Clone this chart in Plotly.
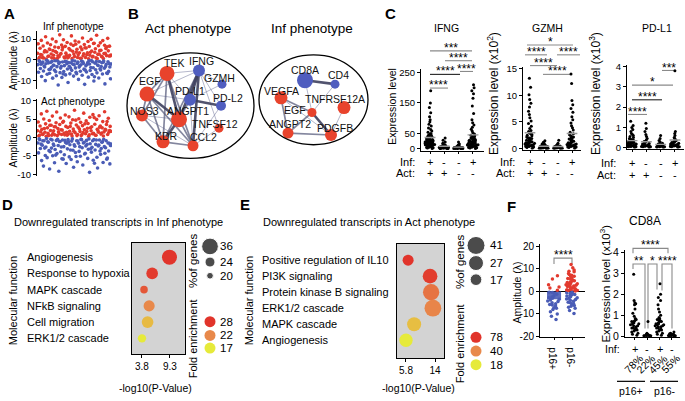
import numpy as np
import plotly.graph_objects as go

W, H = 685, 401
FONT = "Liberation Sans, Arial, Helvetica, sans-serif"
RED = "#e23a2e"
BLUE = "#4a5cb6"
NODE_RED = "#e8432c"
NODE_BLUE = "#4f5dbf"
YEL, ORA, RD = "#e6ea3a", "#e8894b", "#e1342b"

# ======================= DATA =======================
# Panel A : amplitudes (lambda) per sample, in sample order
inf_red = [3.1, 7.8, 0.4, 1.2, 5.6, 2.5, 9.4, 2.3, 1.0, 6.7, 0.8, 3.8, 4.5, 11.2, 0.3, 3.9, 8.1, 1.7, 1.7, 5.2, 5.0,
           7.3, 2.8, 0.9, 10.1, 4.4, 2.2, 0.6, 6.2, 4.0, 8.8, 3.5, 0.6, 1.9, 5.9, 1.4, 12.1, 2.6, 3.0, 7.1, 4.8, 6.0,
           9.7, 1.3, 0.8, 6.5, 3.2, 2.0, 8.4, 0.9, 1.2, 5.4, 2.1, 4.7, 7.6, 11.6, 0.5, 4.1, 6.9, 2.8, 1.5, 9.1, 7.5,
           3.7, 5.1, 1.1, 2.4, 8.6, 3.4, 0.7, 6.1, 0.7, 4.9, 10.6, 1.9, 2.9, 7.4, 5.8, 1.1, 5.7, 2.4, 3.3, 8.9, 0.4,
           6.4, 2.2, 3.6, 9.9, 4.2, 1.3, 1.6, 7.9, 8.0, 3.6, 5.3, 0.9, 11.9, 0.5, 2.6, 6.8, 2.7, 4.4, 8.2, 4.6, 1.6,
           1.4, 9.3, 0.6, 3.0, 7.0, 3.1, 5.5, 2.0, 6.3, 10.4, 4.3, 1.8, 6.6, 1.8, 2.3]
inf_blue = [-2.4, -6.1, -0.5, -0.9, -4.3, -2.2, -8.2, -1.6, -1.1, -5.5, -3.1, -3.5, -10.2, -2.0, -0.3, -7.1, -0.7,
            -1.6, -4.8, -6.6, -4.6, -1.3, -3.7, -0.8, -9.0, -2.7, -2.7, -5.1, -0.5, -5.9, -7.8, -3.4, -0.6, -12.3,
            -1.9, -1.3, -6.3, -4.1, -3.2, -8.7, -1.1, -7.0, -5.8, -2.9, -0.9, -7.4, -0.8, -2.0, -4.5, -11.1, -1.4,
            -3.2, -6.9, -4.1, -1.5, -5.2, -0.4, -2.2, -8.0, -2.5, -0.6, -4.0, -6.2, -6.8, -1.8, -1.2, -9.6, -3.6,
            -3.0, -5.6, -2.5, -0.7, -7.6, -1.0, -1.8, -4.6, -12.0, -5.1, -3.0, -6.0, -2.3, -1.4, -8.5, -0.5, -2.1,
            -5.3, -3.8, -0.4, -7.2, -1.0, -3.9, -10.4, -8.3, -1.7, -4.9, -0.9, -6.4, -2.6, -2.8, -8.9, -0.9, -4.4,
            -5.0, -3.3, -1.5, -7.0, -1.2, -0.6, -4.2, -11.8, -3.3, -2.3, -6.5, -6.7, -1.0, -5.7, -1.9, -3.5, -9.3,
            -2.1]
act_red = [1.8, 4.2, 0.4, 0.6, 3.1, 1.5, 6.4, 2.2, 0.8, 0.9, 5.0, 2.4, 1.4, 3.7, 0.3, 7.1, 2.6, 1.1, 0.5, 4.6, 3.3,
           1.9, 3.3, 0.6, 5.8, 1.1, 1.8, 2.9, 0.7, 2.9, 4.0, 6.9, 0.5, 2.4, 1.5, 1.0, 3.5, 5.3, 2.1, 0.8, 2.0, 4.1,
           4.4, 1.2, 0.7, 6.1, 3.0, 1.4, 0.6, 2.7, 0.9, 5.6, 1.7, 3.0, 3.9, 0.9, 0.4, 4.8, 2.3, 1.7, 7.4, 1.3, 4.7,
           3.4, 0.5, 0.8, 2.8, 5.1, 2.3, 1.6, 4.1, 0.5, 0.8, 3.2, 1.3, 6.6, 2.1, 3.7, 1.0, 4.5, 1.6, 2.5, 3.8, 0.3,
           0.7, 5.5, 2.6, 1.8, 2.9, 1.0, 6.2, 1.1, 5.4, 3.6, 0.6, 0.6, 4.9, 2.2, 1.9, 1.4, 5.9, 2.8, 3.1, 0.9, 1.2,
           2.6, 4.3, 0.4, 1.5, 7.0, 2.2, 2.0, 3.5, 4.3, 0.8, 5.2, 1.4, 1.9, 3.0, 1.7]
act_blue = [-1.5, -4.2, -0.4, -0.6, -3.0, -1.8, -6.3, -2.1, -0.9, -7.8, -0.9, -2.9, -4.9, -2.6, -0.3, -5.5, -1.2,
            -1.3, -3.6, -8.6, -3.9, -0.5, -2.9, -0.7, -5.0, -1.8, -2.2, -6.9, -3.3, -4.8, -0.8, -4.4, -0.5, -2.2,
            -9.2, -1.1, -1.1, -3.9, -2.6, -5.8, -0.7, -5.9, -2.5, -4.7, -0.8, -1.4, -7.1, -1.6, -3.1, -0.6, -1.2,
            -5.3, -2.0, -3.4, -6.0, -1.0, -0.4, -3.5, -8.1, -2.0, -2.4, -4.1, -5.2, -0.9, -6.6, -1.0, -1.6, -3.8,
            -2.5, -5.1, -0.5, -0.6, -2.8, -7.5, -1.5, -1.3, -4.5, -4.3, -2.3, -0.8, -1.9, -5.7, -3.2, -0.4, -9.5,
            -1.7, -3.1, -4.0, -2.7, -0.9, -6.2, -0.6, -7.0, -3.4, -1.9, -0.7, -5.4, -8.3, -2.3, -2.1, -0.7, -3.7,
            -4.6, -3.0, -1.3, -1.2, -6.8, -0.5, -2.5, -4.3, -2.8, -0.9, -5.9, -5.6, -1.5, -3.7, -1.6, -7.2, -2.2,
            -1.8]

# Panel B : networks (node layout positions, sizes, type)
act_nodes = ["TEK", "IFNG", "GZMH", "EGF", "PD-L1", "PD-L2", "NOS3", "ANGPT1", "TNFSF12", "KDR", "CCL2"]
act_node_x = [167, 199, 222, 147, 190, 221, 142, 179, 219, 163, 193]
act_node_y = [71, 68, 82, 92, 98, 104, 114, 118, 127, 141, 145]
act_node_size = [15, 12, 9, 15, 12, 10, 12, 16, 9, 13, 11]
act_node_type = ["r", "b", "b", "r", "b", "b", "r", "r", "r", "r", "r"]
act_label_x = [174, 201, 219, 150, 190, 228, 144, 188, 215, 166, 203]
act_label_y = [60, 58, 76, 79, 89, 96, 109, 109, 123, 135, 136]
act_edges = [("TEK", "IFNG", 1), ("TEK", "EGF", 2), ("TEK", "ANGPT1", 3), ("TEK", "KDR", 2), ("TEK", "NOS3", 2),
             ("TEK", "PD-L1", 1), ("TEK", "CCL2", 2), ("IFNG", "GZMH", 1), ("IFNG", "PD-L1", 3), ("IFNG", "PD-L2", 1),
             ("IFNG", "ANGPT1", 3), ("IFNG", "KDR", 2), ("IFNG", "CCL2", 3), ("IFNG", "TNFSF12", 1), ("IFNG", "EGF", 1),
             ("EGF", "NOS3", 2), ("EGF", "ANGPT1", 3), ("EGF", "KDR", 2), ("EGF", "PD-L1", 1), ("EGF", "CCL2", 2),
             ("PD-L1", "PD-L2", 3), ("PD-L1", "ANGPT1", 2), ("PD-L1", "CCL2", 1), ("PD-L1", "GZMH", 1), ("PD-L2", "CCL2", 1),
             ("NOS3", "ANGPT1", 1), ("NOS3", "KDR", 2), ("NOS3", "CCL2", 1), ("ANGPT1", "KDR", 3), ("ANGPT1", "CCL2", 2),
             ("KDR", "CCL2", 2), ("TNFSF12", "CCL2", 1)]

inf_nodes = ["CD8A", "CD4", "VEGFA", "TNFRSF12A", "EGF", "ANGPT2", "PDGFB"]
inf_node_x = [305, 335, 281, 344, 312, 288, 331]
inf_node_y = [78, 82, 96, 106, 111, 132, 134]
inf_node_size = [16, 9, 13, 13, 9, 11, 12]
inf_node_type = ["b", "b", "r", "r", "r", "r", "r"]
inf_label_x = [305, 338, 281, 335, 295, 290, 335]
inf_label_y = [68, 73, 89, 97, 108, 123, 127]
inf_edges = [("CD8A", "CD4", 3), ("CD8A", "EGF", 1), ("CD4", "EGF", 1), ("VEGFA", "EGF", 2), ("VEGFA", "ANGPT2", 2),
             ("EGF", "ANGPT2", 2), ("EGF", "PDGFB", 3), ("ANGPT2", "PDGFB", 2), ("TNFRSF12A", "PDGFB", 1),
             ("VEGFA", "PDGFB", 1)]

# Panel C : expression levels, groups = (Inf+Act+, Inf-Act+, Inf-Act-, Inf+Act-)
c_inf_signs = ["+", "-", "-", "+"]
c_act_signs = ["+", "+", "-", "-"]
ifng = [
    [190, 150, 135, 118, 105, 95, 88, 80, 74, 68, 63, 58, 54, 50, 47, 44, 41, 38, 36, 34, 32, 30, 28, 26, 25, 24, 22,
     21, 20, 19, 18, 17, 16, 15, 14, 13, 12, 11, 10, 9, 8, 7, 6, 5, 4, 3, 2, 1, 22, 18, 15, 12, 28, 33, 40, 45, 20,
     17, 25, 14, 30, 23, 19, 16, 27],
    [35, 28, 22, 18, 15, 12, 10, 9, 8, 7, 6, 5, 5, 4, 4, 3, 3, 2, 2, 1, 1, 0.5, 6, 8, 10, 3, 2, 4, 1, 12, 7, 5, 3],
    [22, 15, 12, 10, 8, 7, 6, 5, 4, 4, 3, 3, 2, 2, 1, 1, 0.5, 6, 5, 3, 2, 8, 1, 4, 2, 3, 5, 1],
    [210, 200, 190, 180, 165, 140, 115, 95, 85, 78, 70, 64, 58, 52, 48, 44, 40, 36, 33, 30, 28, 26, 24, 22, 20, 18, 17,
     15, 14, 12, 11, 10, 9, 8, 7, 6, 5, 4, 3, 2, 1, 25, 30, 20, 15, 10, 35, 42, 18, 12, 22, 16, 27, 8, 13],
]
gzmh = [
    [13.2, 11.5, 10.1, 9.2, 8.5, 7.8, 7.0, 6.4, 5.8, 5.2, 4.7, 4.2, 3.8, 3.4, 3.0, 2.7, 2.4, 2.2, 2.0, 1.8, 1.6, 1.4,
     1.2, 1.1, 1.0, 0.9, 0.8, 0.7, 0.6, 0.5, 0.4, 0.3, 0.2, 0.1, 1.5, 1.3, 2.5, 0.9, 0.6, 3.2, 1.7, 0.4, 2.1, 1.0, 0.8,
     1.9, 0.7, 1.2, 0.5, 2.8],
    [1.5, 1.2, 1.0, 0.8, 0.7, 0.6, 0.5, 0.4, 0.4, 0.3, 0.3, 0.2, 0.2, 0.1, 0.1, 0.05, 0.6, 0.3, 0.2, 0.9, 0.4, 0.1,
     0.5, 0.2, 0.3, 0.7, 0.15],
    [1.6, 1.0, 0.8, 0.6, 0.5, 0.4, 0.35, 0.3, 0.25, 0.2, 0.15, 0.1, 0.1, 0.05, 0.3, 0.2, 0.5, 0.1, 0.4, 0.2, 0.25],
    [14.0, 12.2, 9.0, 8.2, 7.5, 6.8, 6.0, 5.4, 4.8, 4.3, 3.9, 3.5, 3.1, 2.8, 2.5, 2.2, 2.0, 1.8, 1.6, 1.4, 1.2, 1.0,
     0.9, 0.8, 0.7, 0.6, 0.5, 0.4, 0.3, 0.2, 0.1, 1.5, 1.1, 0.9, 2.3, 0.6, 0.4, 1.9, 0.7, 0.3, 1.3, 0.5, 2.6, 0.8],
]
pdl1 = [
    [1.3, 1.1, 1.0, 0.9, 0.8, 0.7, 0.65, 0.6, 0.55, 0.5, 0.45, 0.4, 0.36, 0.32, 0.28, 0.25, 0.22, 0.2, 0.18, 0.15,
     0.12, 0.1, 0.08, 0.06, 0.04, 0.02, 0.3, 0.2, 0.15, 0.1, 0.05, 0.25, 0.12, 0.4, 0.08, 0.18, 0.22, 0.14, 0.33, 0.06],
    [1.2, 0.95, 0.8, 0.65, 0.55, 0.45, 0.38, 0.32, 0.27, 0.22, 0.18, 0.15, 0.12, 0.1, 0.08, 0.06, 0.04, 0.02, 0.2,
     0.1, 0.3, 0.05, 0.14, 0.07, 0.12, 0.09],
    [0.6, 0.45, 0.35, 0.28, 0.22, 0.18, 0.15, 0.12, 0.1, 0.08, 0.06, 0.05, 0.04, 0.03, 0.02, 0.1, 0.2, 0.06, 0.12, 0.04],
    [3.8, 0.8, 0.7, 0.6, 0.5, 0.45, 0.4, 0.35, 0.3, 0.26, 0.22, 0.18, 0.15, 0.12, 0.1, 0.08, 0.06, 0.04, 0.02, 0.2,
     0.1, 0.3, 0.05, 0.15, 0.25, 0.08, 0.12, 0.18],
]

# Panel D : downregulated in Inf phenotype
d_terms = ["Angiogenesis", "Response to hypoxia", "MAPK cascade", "NFkB signaling", "Cell migration", "ERK1/2 cascade"]
d_logp = [9.2, 5.8, 4.2, 5.2, 4.9, 3.8]
d_pct = [33, 27, 21, 26, 27, 22]
d_fold = [28, 27.5, 25.5, 22, 19.5, 17]
d_logp_ticks = [3.8, 9.3]
d_pct_legend = [36, 24, 20]
d_fold_legend = [28, 22, 17]

# Panel E : downregulated in Act phenotype
e_terms = ["Positive regulation of IL10", "PI3K signaling", "Protein kinase B signaling", "ERK1/2 cascade",
           "MAPK cascade", "Angiogenesis"]
e_logp = [6.4, 12.6, 12.9, 13.4, 8.1, 5.8]
e_pct = [15, 26, 33, 35, 24, 22]
e_fold = [78, 74, 50, 42, 28, 18]
e_logp_ticks = [5.8, 14]
e_pct_legend = [41, 27, 17]
e_fold_legend = [78, 40, 18]

# Panel F : amplitudes by p16 status, and CD8A expression (x10^3)
f_p16pos = [7, 5.5, 3, 1.5, 0.5, -0.5, -1.2, -2, -2.8, -3.5, -4.2, -5, -5.8, -6.5, -7.2, -8, -9, -10, -11, -12.5,
            -1, -3, -4.5, -6, -2.5, -0.3, 2, -7.5, -5.5, -3.8]
f_p16neg = [12, 10.5, 9.5, 8.8, 8, 7.2, 6.5, 6, 5.5, 5, 4.5, 4, 3.6, 3.2, 2.8, 2.4, 2, 1.6, 1.2, 0.8, 0.4, 0.2, 3,
            5.8, 7.5, 2.2, 4.2, 1, 6.8, 9, 3.4, 1.8, 0.6, 2.6, 4.8, -0.3, -0.8, -1.3, -1.8, -2.4, -3, -3.6, -4.3, -5,
            -5.8, -6.6, -7.5, -8.5, -9.8, -1, -2, -3.3, -4.8, -6.2, -0.6, -2.8, -1.5, -7, -3.9, -5.3]
f_groups = ["p16+", "p16-"]
cd8a = [
    [2.95, 1.7, 1.6, 1.55, 1.5, 1.3, 1.1, 0.95, 0.85, 0.8, 0.75, 0.7, 0.65, 0.6, 0.55, 0.5, 0.45, 0.4, 0.35, 0.3,
     0.25, 0.2, 0.15, 0.1, 0.05, 0.6, 0.5, 0.4, 0.7, 0.3],
    [0.7, 0.15, 0.1, 0.08, 0.06, 0.05, 0.04, 0.03, 0.02, 0.01, 0.05, 0.1, 0.03],
    [2.5, 2.0, 1.85, 1.7, 1.5, 1.3, 1.15, 1.0, 0.9, 0.85, 0.8, 0.75, 0.7, 0.65, 0.6, 0.55, 0.5, 0.45, 0.4, 0.35, 0.3,
     0.25, 0.2, 0.15, 0.1, 0.05, 0.6, 0.5, 0.4, 0.7, 0.3, 0.8, 0.45, 0.55],
    [0.2, 0.15, 0.12, 0.1, 0.08, 0.06, 0.05, 0.04, 0.03, 0.02, 0.1, 0.05, 0.07, 0.03, 0.09, 0.04],
]
cd8a_inf_signs = ["+", "-", "+", "-"]
cd8a_pct = ["78%", "22%", "45%", "55%"]

# ======================= HELPERS =======================
traces, annotations, shapes = [], [], []
axes = {}


def X(p):
    return p / W


def Y(p):
    return 1 - p / H


def refs(i):
    return ("x" if i == 1 else f"x{i}", "y" if i == 1 else f"y{i}")


BASE = dict(showgrid=False, zeroline=False, showline=False, showticklabels=False, ticks="", fixedrange=True)
AXL = dict(showline=True, linecolor="black", linewidth=1, ticks="outside", ticklen=3, tickwidth=1,
           tickcolor="black", showticklabels=True, tickfont=dict(size=10, family=FONT, color="black"))


def make_axes(i, xd, yd, xr, yr, xkw=None, ykw=None):
    xr_, yr_ = refs(i)
    xa = dict(BASE, domain=[X(xd[0]), X(xd[1])], range=xr, anchor=yr_)
    ya = dict(BASE, domain=[Y(yd[1]), Y(yd[0])], range=yr, anchor=xr_)
    xa.update(xkw or {})
    ya.update(ykw or {})
    axes["xaxis" if i == 1 else f"xaxis{i}"] = xa
    axes["yaxis" if i == 1 else f"yaxis{i}"] = ya
    return xr_, yr_


def txt(s, x, y, size=10, xa="center", ya="middle", angle=0, bold=False, xref="paper"):
    if bold:
        s = f"<b>{s}</b>"
    annotations.append(dict(text=s, x=X(x) if xref == "paper" else x, y=Y(y), xref=xref, yref="paper",
                            showarrow=False, xanchor=xa, yanchor=ya, textangle=angle,
                            font=dict(size=size, family=FONT, color="black")))


OV = ("x3", "y3")  # pixel overlay for decorations


def oline(xs, ys, color="#8a8a8a", width=1.1):
    traces.append(go.Scatter(x=xs, y=ys, mode="lines", line=dict(color=color, width=width),
                             xaxis=OV[0], yaxis=OV[1], hoverinfo="skip", showlegend=False))


def bracket(x0, x1, y, label, color="#8a8a8a", size=12):
    oline([x0, x1], [y, y], color)
    txt(label, (x0 + x1) / 2, y - 3, size=size)


def strip(vals, pos, ax, color="black", width=0.8, size=3):
    traces.append(go.Box(y=vals, x0=pos, boxpoints="all", jitter=1, pointpos=0, width=width,
                         marker=dict(color=color, size=size), line=dict(color="rgba(0,0,0,0)", width=0),
                         fillcolor="rgba(0,0,0,0)", xaxis=ax[0], yaxis=ax[1], hoverinfo="skip",
                         showlegend=False))


def fold_cs(lo, mid, hi):
    return [[0, YEL], [(mid - lo) / (hi - lo), ORA], [1, RD]]


# overlay axes (pixel coordinates)
make_axes(3, (0, W), (0, H), [0, W], [H, 0])

# ======================= PANEL A =======================
for i, (title, reds, blues, dom, yr, tv, ty) in enumerate([
        ("Inf phenotype", inf_red, inf_blue, (28, 87), [-14.3, 13.8], [-10, 0, 10], 23),
        ("Act phenotype", act_red, act_blue, (97, 176), [-10.5, 10.5], [-10, -5, 0, 5, 10], 100)]):
    ax = make_axes(i + 1, (37, 112), dom, [-1, 121], yr,
                   ykw=dict(AXL, tickvals=tv, ticktext=[str(v) for v in tv],
                            tickfont=dict(size=9.5, family=FONT, color="black")))
    traces.append(go.Scatter(x=np.arange(len(reds)), y=reds, mode="markers",
                             marker=dict(color=RED, size=3.6, line=dict(width=0)), xaxis=ax[0], yaxis=ax[1],
                             showlegend=False))
    traces.append(go.Scatter(x=np.arange(len(blues)) + 0.5, y=blues, mode="markers",
                             marker=dict(color=BLUE, size=3.6, line=dict(width=0)), xaxis=ax[0], yaxis=ax[1],
                             showlegend=False))
    txt(title, 73, ty, size=10)
    txt("Amplitude (λ)", 13, (dom[0] + dom[1]) / 2 + 1, size=10, angle=-90)
txt("A", 9, 10, size=15, bold=True)

# ======================= PANEL B =======================
txt("B", 133, 10, size=15, bold=True)
txt("Act phenotype", 188, 25, size=13.5)
txt("Inf phenotype", 312, 25, size=13.5)
shapes.append(dict(type="circle", xref="x3", yref="y3", x0=127, x1=254, y0=50, y1=158,
                   line=dict(color="black", width=1.3)))
shapes.append(dict(type="circle", xref="x3", yref="y3", x0=259, x1=368, y0=52, y1=144,
                   line=dict(color="black", width=1.3)))
EDGE_STYLE = {1: (1.0, "rgba(120,124,160,0.55)"), 2: (1.7, "rgba(90,93,125,0.75)"), 3: (2.6, "rgba(62,64,94,0.9)")}
for nodes, nx_, ny_, ns, nt, lx, ly, edges in [
        (act_nodes, act_node_x, act_node_y, act_node_size, act_node_type, act_label_x, act_label_y, act_edges),
        (inf_nodes, inf_node_x, inf_node_y, inf_node_size, inf_node_type, inf_label_x, inf_label_y, inf_edges)]:
    idx = {n: k for k, n in enumerate(nodes)}
    for a, b, w in sorted(edges, key=lambda e: e[2]):
        lw, lc = EDGE_STYLE[w]
        oline([nx_[idx[a]], nx_[idx[b]]], [ny_[idx[a]], ny_[idx[b]]], color=lc, width=lw)
    traces.append(go.Scatter(x=nx_, y=ny_, mode="markers",
                             marker=dict(size=ns, color=[NODE_RED if t == "r" else NODE_BLUE for t in nt],
                                         opacity=1, line=dict(width=0)),
                             xaxis=OV[0], yaxis=OV[1], showlegend=False, hoverinfo="skip"))
    for name, x_, y_ in zip(nodes, lx, ly):
        annotations.append(dict(text=name, x=x_, y=y_, xref=OV[0], yref=OV[1], showarrow=False,
                                font=dict(size=10.5, family=FONT, color="#111")))

# ======================= PANEL C =======================
txt("C", 390, 10, size=15, bold=True)
c_specs = [
    (4, "IFNG", ifng, (421, 484), (66, 150), [0.37, 4.77], [-6.4, 262.8], [0, 50, 150, 250], 447,
     "Expression level", 392, 105, 10.5, 417, (162, 173)),
    (5, "GZMH", gzmh, (523, 581), (64, 149), [0.5, 4.64], [-0.18, 15.37], [0, 5, 10, 15], 547,
     "Expression level (x10<sup>2</sup>)", 493, 92, 12, 517, (162, 173)),
    (6, "PD-L1", pdl1, (627, 684), (62, 148), [0.65, 4.63], [-0.05, 4.1], [0, 1, 2, 3, 4], 657,
     "Expression level (x10<sup>3</sup>)", 595, 92, 12, 618, (163, 175)),
]
for (i, title, groups, xd, yd, xr, yr, tv, tx, ylab, ylx, yly, ylsize, infx, rows) in c_specs:
    ax = make_axes(i, xd, yd, xr, yr,
                   xkw=dict(AXL, tickvals=[1, 2, 3, 4], showticklabels=False, ticklen=2),
                   ykw=dict(AXL, tickvals=tv, ticktext=[str(v) for v in tv],
                            tickfont=dict(size=9.5, family=FONT, color="black")))
    for g, vals in enumerate(groups, start=1):
        strip(vals, g, ax, width=0.8, size=3)
        m = float(np.mean(vals))
        traces.append(go.Scatter(x=[g - 0.38, g + 0.38], y=[m, m], mode="lines",
                                 line=dict(color="#9a9a9a", width=1.4), xaxis=ax[0], yaxis=ax[1],
                                 showlegend=False, hoverinfo="skip"))
    txt(title, tx, 25, size=10.5)
    txt(ylab, ylx, yly, size=ylsize, angle=-90)
    txt("Inf:", infx, rows[0], size=11, xa="right")
    txt("Act:", infx, rows[1], size=11, xa="right")
    for g in range(4):
        txt(c_inf_signs[g], g + 1, rows[0], size=11, xref=ax[0])
        txt(c_act_signs[g], g + 1, rows[1], size=11, xref=ax[0])

# significance bars (pixel positions of annotation bars)
for (x0, x1, y, lab, col) in [
        (430, 472, 48, "***", "#8a8a8a"), (445, 472, 58, "****", "#8a8a8a"), (430, 460, 72, "****", "#222"),
        (460, 473, 69, "****", "#8a8a8a"), (430, 448, 86, "****", "#8a8a8a"),
        (527, 573, 42, "*", "#8a8a8a"), (525, 547, 52, "****", "#8a8a8a"), (557, 580, 52, "****", "#8a8a8a"),
        (530, 557, 63, "****", "#8a8a8a"), (543, 572, 72, "****", "#8a8a8a"),
        (662, 675, 68, "***", "#8a8a8a"), (632, 673, 83, "*", "#8a8a8a"), (632, 662, 98, "****", "#222"),
        (628, 647, 113, "****", "#8a8a8a")]:
    bracket(x0, x1, y, lab, col)

# ======================= PANELS D & E =======================
def enrichment(i, letter, lx, title, tcx, terms, logp, pct, fold, ticks, xd, yd, xr, yr, label_x, mf_x, xl_cx,
               pct_leg, fold_leg, size_map, cs, cmin, cmax, leg_x, leg_lab_x, leg_pct_y, leg_fold_y, leg_title_x,
               leg_pct_cy, leg_fold_cy):
    ax = make_axes(i, xd, yd, xr, yr,
                   xkw=dict(AXL, mirror=True, tickvals=ticks, ticktext=[str(t) for t in ticks]),
                   ykw=dict(showline=True, linecolor="black", linewidth=1, mirror=True))
    shapes.append(dict(type="rect", xref=f"{ax[0]} domain", yref=f"{ax[1]} domain", x0=0, x1=1, y0=0, y1=1,
                       fillcolor="#d3d3d3", line=dict(width=0), layer="below"))
    rows = list(range(len(terms), 0, -1))
    traces.append(go.Scatter(x=logp, y=rows, mode="markers",
                             marker=dict(size=size_map(np.array(pct)), color=fold, colorscale=cs, cmin=cmin,
                                         cmax=cmax, line=dict(width=0), opacity=1),
                             xaxis=ax[0], yaxis=ax[1], showlegend=False, hoverinfo="skip"))
    for t, r in zip(terms, rows):
        annotations.append(dict(text=t, x=X(label_x), y=r, xref="paper", yref=ax[1], showarrow=False,
                                xanchor="left", yanchor="middle", font=dict(size=11, family=FONT, color="black")))
    txt(letter, lx, 205, size=15, bold=True)
    txt(title, tcx, 223, size=11)
    txt("Molecular function", mf_x, 304, size=11, angle=-90)
    txt("-log10(P-Value)", xl_cx, 393, size=10.5)
    # legends
    traces.append(go.Scatter(x=[leg_x] * 3, y=leg_pct_y, mode="markers",
                             marker=dict(size=size_map(np.array(pct_leg)), color="black"),
                             xaxis=OV[0], yaxis=OV[1], showlegend=False, hoverinfo="skip"))
    traces.append(go.Scatter(x=[leg_x] * 3, y=leg_fold_y, mode="markers",
                             marker=dict(size=11, color=fold_leg, colorscale=cs, cmin=cmin, cmax=cmax),
                             xaxis=OV[0], yaxis=OV[1], showlegend=False, hoverinfo="skip"))
    for v, yy in zip(pct_leg, leg_pct_y):
        txt(str(v), leg_lab_x, yy, size=11.5, xa="left")
    for v, yy in zip(fold_leg, leg_fold_y):
        txt(str(v), leg_lab_x, yy, size=11.5, xa="left")
    txt("%of genes", leg_title_x, leg_pct_cy, size=11.5, angle=-90)
    txt("Fold enrichment", leg_title_x, leg_fold_cy, size=11, angle=-90)


enrichment(7, "D", 8, "Downregulated transcripts in Inf phenotype", 118, d_terms, d_logp, d_pct, d_fold,
           d_logp_ticks, (132, 185), (244, 358), [1.84, 12.25], [0.04, 6.9], 25, 13, 155,
           d_pct_legend, d_fold_legend, lambda p: np.interp(p, [10, 20, 24, 36, 50], [4, 6.7, 10, 16.7, 22]),
           fold_cs(17, 22, 28), 17, 28, 210, 218, [248, 264, 278], [325, 339, 352], 193, 263, 343)
enrichment(8, "E", 245, "Downregulated transcripts in Act phenotype", 369, e_terms, e_logp, e_pct, e_fold,
           e_logp_ticks, (397, 444), (245, 362), [3.26, 16.54], [-0.1, 7.04], 260, 249, 418,
           e_pct_legend, e_fold_legend, lambda p: np.interp(p, [10, 17, 27, 41, 50], [9.4, 11.7, 15, 18, 20]),
           fold_cs(18, 40, 78), 18, 78, 476, 488, [247, 265, 282], [341, 355, 369], 460, 263, 347)

# ======================= PANEL F =======================
txt("F", 511, 207, size=15, bold=True)
axf = make_axes(9, (540, 585), (246, 341), [0.22, 2.72], [-20.4, 20.9],
                xkw=dict(AXL, tickvals=[1, 2], ticktext=f_groups, ticklen=2),
                ykw=dict(AXL, tickvals=[-20, -10, 0, 10, 20], ticktext=["-20", "-10", "0", "10", "20"],
                         zeroline=True, zerolinecolor="black", zerolinewidth=1.2))
for g, vals in enumerate([f_p16pos, f_p16neg], start=1):
    m = float(np.mean(vals))
    traces.append(go.Bar(x=[g], y=[m], width=0.78, marker=dict(color=BLUE if m < 0 else RED, line=dict(width=0)),
                         opacity=0.9, xaxis=axf[0], yaxis=axf[1], showlegend=False, hoverinfo="skip"))
    strip([v for v in vals if v <= 0], g, axf, color=BLUE, width=0.72, size=3.5)
    strip([v for v in vals if v > 0], g, axf, color=RED, width=0.72, size=3.5)
txt("Amplitude (λ)", 517, 295, size=10.5, angle=-90)
oline([554, 554, 572, 572], [266, 260, 260, 266], color="#8a8a8a")
txt("****", 563, 257, size=12)

axc = make_axes(10, (625, 680), (252, 341), [0.19, 4.65], [-0.05, 4.09],
                xkw=dict(AXL, tickvals=[1, 2, 3, 4], showticklabels=False, ticklen=2),
                ykw=dict(AXL, tickvals=[0, 1, 2, 3, 4], ticktext=["0", "1", "2", "3", "4"],
                         tickfont=dict(size=10.5, family=FONT, color="black")))
for g, vals in enumerate(cd8a, start=1):
    strip(vals, g, axc, width=0.75, size=3)
txt("CD8A", 645, 222, size=12)
txt("Expression level (x10<sup>3</sup>)", 605, 286, size=11.5, angle=-90)
txt("Inf:", 622, 353, size=10.5, xa="right")
for g in range(4):
    txt(cd8a_inf_signs[g], g + 1, 353, size=11, xref=axc[0])
    txt(cd8a_pct[g], g + 1 - 0.15, 368, size=10.5, angle=-45, xref=axc[0])
oline([633, 633, 668, 668], [255, 250, 250, 255])
txt("****", 650, 247, size=12)
oline([633, 633, 645, 645], [271, 266, 266, 332])
txt("**", 639, 263, size=12)
oline([648, 648, 657, 657], [332, 266, 266, 292])
txt("*", 652, 263, size=12)
oline([662, 662, 672, 672], [293, 266, 266, 332])
txt("****", 667, 263, size=12)
oline([617, 645], [386, 386], color="black", width=1.2)
oline([650, 678], [386, 386], color="black", width=1.2)
txt("p16+", 631, 396, size=10.5)
txt("p16-", 665, 396, size=10.5)

# ======================= FIGURE =======================
fig = go.Figure(data=traces)
fig.update_layout(**axes)
fig.update_layout(width=W, height=H, margin=dict(l=0, r=0, t=0, b=0), paper_bgcolor="white",
                  plot_bgcolor="rgba(0,0,0,0)", showlegend=False, annotations=annotations, shapes=shapes,
                  font=dict(family=FONT, color="black"), barmode="overlay", boxmode="overlay")
fig.write_html("out.html", config={"displayModeBar": False, "staticPlot": True},
               post_script="document.body.style.margin='0';document.body.style.overflow='hidden';")
